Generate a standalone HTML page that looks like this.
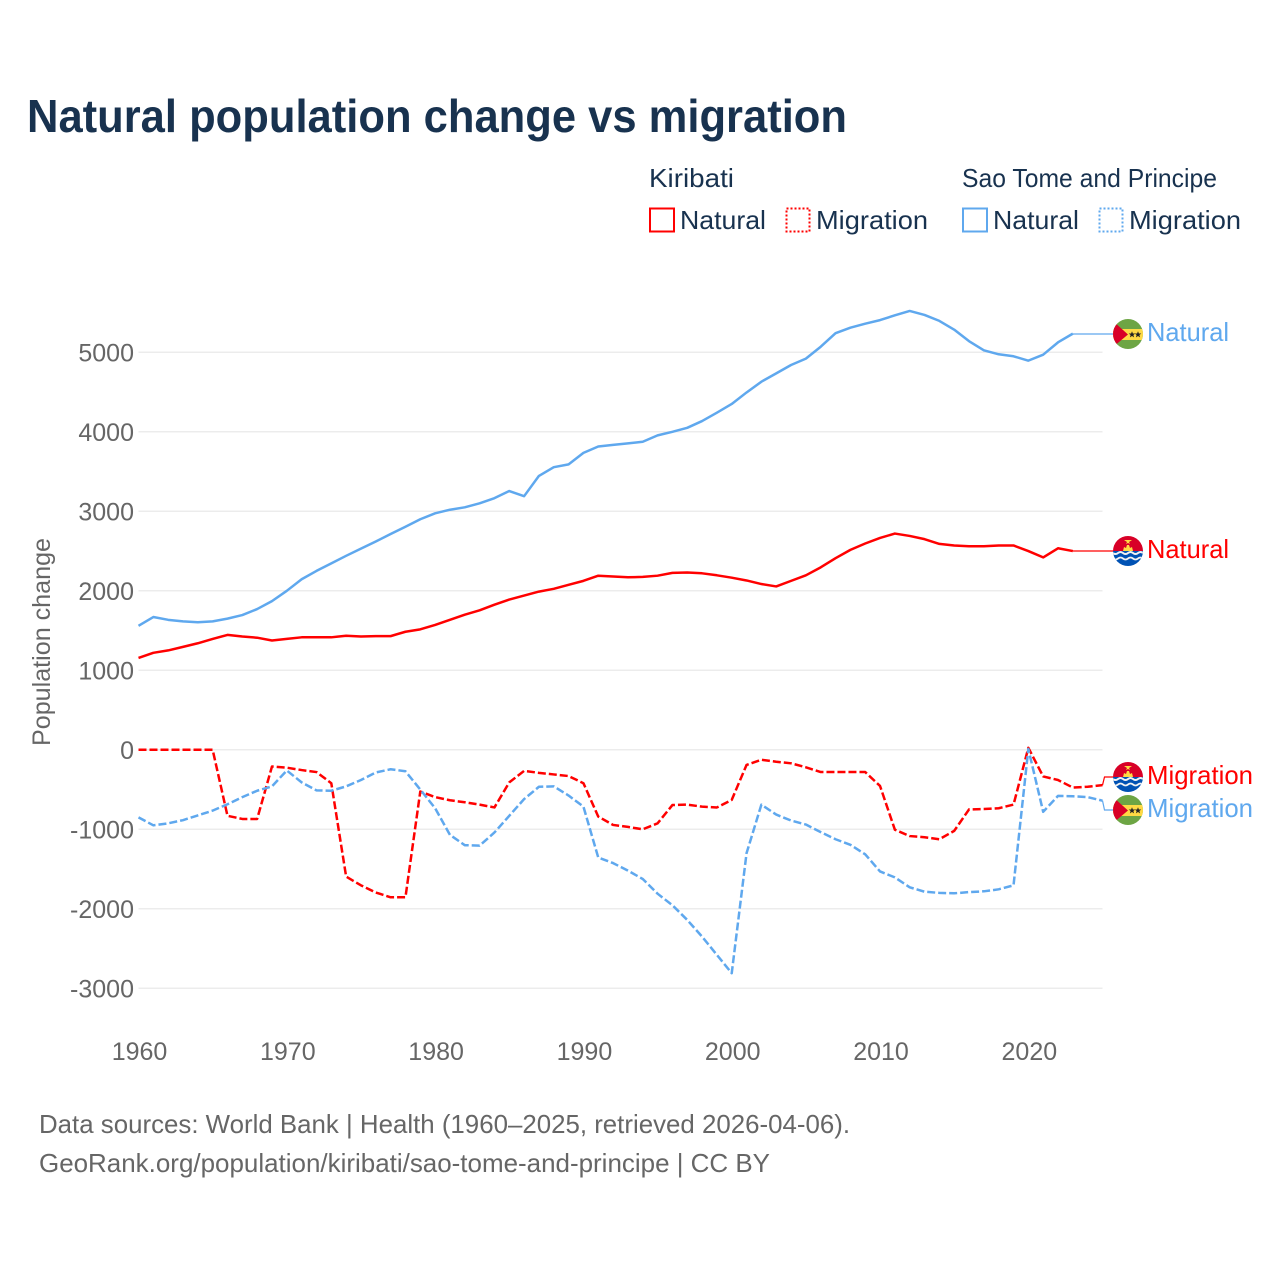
<!DOCTYPE html>
<html lang="en">
<head>
<meta charset="utf-8">
<title>Natural population change vs migration</title>
<style>
html,body{margin:0;padding:0;background:#fff;}
svg{display:block;font-family:"Liberation Sans",sans-serif;}
</style>
</head>
<body>
<svg id="chart" xmlns="http://www.w3.org/2000/svg" width="1280" height="1280" viewBox="0 0 1280 1280">
<defs>
<clipPath id="flag-clip"><circle cx="0" cy="0" r="15"/></clipPath>
<g id="flag-kiribati" clip-path="url(#flag-clip)">
<rect x="-15" y="-15" width="30" height="15" fill="#d80027"/>
<rect x="-15" y="0" width="30" height="15" fill="#0052b4"/>
<polygon points="-5,0 -4,-4 -2,-3 -1,-6 1,-6 2,-3 4,-4 5,0" fill="#ffda44"/>
<polygon points="-4,-11 4,-11 1,-9 2,-7 0,-8 -2,-7 -1,-9" fill="#ffda44"/>
<path d="M-15 2 q2.5 2 5 0 t5 0 t5 0 t5 0 t5 0 t5 0" fill="none" stroke="#f2f2f2" stroke-width="2"/>
<path d="M-15 7.5 q2.5 2 5 0 t5 0 t5 0 t5 0 t5 0 t5 0" fill="none" stroke="#f2f2f2" stroke-width="1.8"/>
</g>
<g id="flag-sao-tome" clip-path="url(#flag-clip)">
<rect x="-15" y="-15" width="30" height="30" fill="#6da544"/>
<rect x="-15" y="-5" width="30" height="11" fill="#ffda44"/>
<polygon points="-15,-13 -15,13 0,0.5" fill="#d80027"/>
<polygon points="4,-2.800 4.900,-0.500 7.300,-0.500 5.400,1 6.100,3.400 4,2 1.900,3.400 2.600,1 0.700,-0.500 3.100,-0.500" fill="#222"/>
<polygon points="10,-2.800 10.900,-0.500 13.300,-0.500 11.400,1 12.100,3.400 10,2 7.900,3.400 8.600,1 6.700,-0.500 9.100,-0.500" fill="#222"/>
</g>
</defs>

<text x="27" y="132" font-size="46" font-weight="700" fill="#18324f" textLength="820" lengthAdjust="spacingAndGlyphs">Natural population change vs migration</text>

<g>
<text x="649" y="187" font-size="26" fill="#18324f" textLength="85" lengthAdjust="spacingAndGlyphs">Kiribati</text>
<text x="962" y="187" font-size="26" fill="#18324f" textLength="255" lengthAdjust="spacingAndGlyphs">Sao Tome and Principe</text>
<rect x="650" y="208.500" width="24" height="23" fill="none" stroke="#ff0000" stroke-width="2"/>
<text x="680" y="229" font-size="26" fill="#18324f" textLength="86" lengthAdjust="spacingAndGlyphs">Natural</text>
<rect x="786.500" y="208.500" width="23" height="23" fill="none" stroke="#ff0000" stroke-width="2" stroke-dasharray="2 2"/>
<text x="816" y="229" font-size="26" fill="#18324f" textLength="112" lengthAdjust="spacingAndGlyphs">Migration</text>
<rect x="963" y="208.500" width="24" height="23" fill="none" stroke="#5fa8ee" stroke-width="2"/>
<text x="993" y="229" font-size="26" fill="#18324f" textLength="86" lengthAdjust="spacingAndGlyphs">Natural</text>
<rect x="1099.500" y="208.500" width="23" height="23" fill="none" stroke="#5fa8ee" stroke-width="2" stroke-dasharray="2 2"/>
<text x="1129" y="229" font-size="26" fill="#18324f" textLength="112" lengthAdjust="spacingAndGlyphs">Migration</text>
</g>

<g id="grid"></g>
<g id="ticks"></g>
<text transform="translate(50,642) rotate(-90)" text-anchor="middle" font-size="25" fill="#666666" textLength="208" lengthAdjust="spacingAndGlyphs">Population change</text>
<g id="series"></g>

<g>
<use href="#flag-sao-tome" x="1128" y="334"/>
<text x="1147" y="341" font-size="26" fill="#5fa8ee" textLength="82" lengthAdjust="spacingAndGlyphs">Natural</text>
<use href="#flag-kiribati" x="1128" y="551"/>
<text x="1147" y="558" font-size="26" fill="#ff0000" textLength="82" lengthAdjust="spacingAndGlyphs">Natural</text>
<use href="#flag-kiribati" x="1128" y="777"/>
<text x="1147" y="784" font-size="26" fill="#ff0000" textLength="106" lengthAdjust="spacingAndGlyphs">Migration</text>
<use href="#flag-sao-tome" x="1128" y="810"/>
<text x="1147" y="817" font-size="26" fill="#5fa8ee" textLength="106" lengthAdjust="spacingAndGlyphs">Migration</text>
</g>

<text x="39" y="1133" font-size="26" fill="#666666" textLength="811" lengthAdjust="spacingAndGlyphs">Data sources: World Bank | Health (1960–2025, retrieved 2026-04-06).</text>
<text x="39" y="1172" font-size="26" fill="#666666" textLength="731" lengthAdjust="spacingAndGlyphs">GeoRank.org/population/kiribati/sao-tome-and-principe | CC BY</text>
</svg>

<script>
const years = [1960,1961,1962,1963,1964,1965,1966,1967,1968,1969,1970,1971,1972,1973,1974,1975,1976,1977,1978,1979,1980,1981,1982,1983,1984,1985,1986,1987,1988,1989,1990,1991,1992,1993,1994,1995,1996,1997,1998,1999,2000,2001,2002,2003,2004,2005,2006,2007,2008,2009,2010,2011,2012,2013,2014,2015,2016,2017,2018,2019,2020,2021,2022,2023,2024,2025];
const xTicks = [1960,1970,1980,1990,2000,2010,2020];
const yTicks = [-3000,-2000,-1000,0,1000,2000,3000,4000,5000];

const kiribatiNatural = [1155,1220,1250,1295,1340,1395,1445,1425,1410,1375,1395,1415,1415,1415,1435,1425,1430,1430,1485,1515,1570,1635,1700,1755,1825,1890,1940,1990,2025,2075,2125,2190,2180,2170,2175,2190,2225,2230,2220,2195,2165,2130,2085,2055,2125,2195,2295,2410,2515,2595,2665,2720,2690,2650,2590,2570,2560,2560,2570,2570,2500,2420,2535,2500];
const kiribatiMigration = [0,0,0,0,0,0,-830,-870,-870,-210,-225,-255,-280,-420,-1595,-1705,-1795,-1855,-1855,-525,-595,-635,-660,-690,-725,-410,-265,-290,-310,-330,-420,-840,-945,-970,-1000,-925,-695,-690,-715,-725,-630,-190,-125,-150,-170,-220,-280,-280,-280,-280,-455,-1005,-1085,-1100,-1125,-1020,-750,-745,-735,-690,25,-335,-380,-475,-465,-445];
const saoTomeNatural = [1560,1670,1635,1615,1605,1615,1650,1695,1770,1870,2000,2145,2250,2345,2440,2530,2620,2715,2805,2900,2975,3020,3050,3100,3165,3255,3190,3445,3555,3590,3735,3815,3835,3855,3875,3955,4000,4050,4135,4240,4350,4495,4630,4735,4840,4920,5070,5240,5310,5360,5405,5465,5520,5470,5395,5285,5140,5025,4975,4950,4895,4970,5125,5235];
const saoTomeMigration = [-850,-950,-925,-885,-825,-765,-685,-595,-515,-460,-260,-410,-510,-515,-460,-380,-285,-245,-270,-500,-735,-1070,-1200,-1205,-1040,-830,-620,-465,-460,-575,-715,-1355,-1425,-1520,-1625,-1810,-1955,-2140,-2350,-2580,-2810,-1300,-690,-815,-890,-940,-1035,-1125,-1195,-1315,-1530,-1605,-1730,-1785,-1800,-1805,-1790,-1780,-1755,-1705,10,-780,-580,-585,-595,-640];

const NS = 'http://www.w3.org/2000/svg';
const RED = '#ff0000';
const BLUE = '#5fa8ee';
const PLOT_LEFT = 138.500;
const PLOT_RIGHT = 1102.500;

function xScale(year) {
  return PLOT_LEFT + (year - 1960) * (PLOT_RIGHT - PLOT_LEFT) / 65;
}
function yScale(value) {
  return 749.800 - value * 0.0795;
}
function pathFrom(values) {
  return values.map(function (v, i) {
    return (i ? 'L' : 'M') + xScale(years[i]).toFixed(2) + ' ' + yScale(v).toFixed(2);
  }).join('');
}

const gridLayer = document.getElementById('grid');
const tickLayer = document.getElementById('ticks');
const seriesLayer = document.getElementById('series');

yTicks.forEach(function (t) {
  const line = document.createElementNS(NS, 'line');
  
  
  line.setAttribute('x1', PLOT_LEFT);
  line.setAttribute('x2', PLOT_RIGHT);
  line.setAttribute('y1', yScale(t));
  line.setAttribute('y2', yScale(t));
  line.setAttribute('stroke', '#ececec');
  line.setAttribute('stroke-width', '1.500');
  gridLayer.appendChild(line);

  const label = document.createElementNS(NS, 'text');
  
  
  label.setAttribute('x', 134);
  label.setAttribute('y', yScale(t) + 9);
  label.setAttribute('text-anchor', 'end');
  label.setAttribute('font-size', '25');
  label.setAttribute('fill', '#666666');
  label.textContent = String(t);
  tickLayer.appendChild(label);
});

xTicks.forEach(function (t) {
  const label = document.createElementNS(NS, 'text');
  
  
  label.setAttribute('x', xScale(t) + 1);
  label.setAttribute('y', 1060);
  label.setAttribute('text-anchor', 'middle');
  label.setAttribute('font-size', '25');
  label.setAttribute('fill', '#666666');
  label.textContent = String(t);
  tickLayer.appendChild(label);
});

function addSeries(name, values, colour, dashed, labelY) {
  const path = document.createElementNS(NS, 'path');
  
  
  path.setAttribute('d', pathFrom(values));
  path.setAttribute('fill', 'none');
  path.setAttribute('stroke', colour);
  path.setAttribute('stroke-width', '2.500');
  path.setAttribute('stroke-linejoin', 'round');
  if (dashed) {
    path.setAttribute('stroke-dasharray', '8 3');
  }
  seriesLayer.appendChild(path);

  const last = values.length - 1;
  const endX = xScale(years[last]);
  const endY = yScale(values[last]);
  const connector = document.createElementNS(NS, 'polyline');
  
  
  connector.setAttribute('points', endX + ',' + endY + ' ' + (endX + (dashed ? 2 : 0)) + ',' + labelY + ' 1113,' + labelY);
  connector.setAttribute('fill', 'none');
  connector.setAttribute('stroke', colour);
  connector.setAttribute('stroke-width', '1.200');
  seriesLayer.appendChild(connector);
}

addSeries('line-kiribati-natural', kiribatiNatural, RED, false, 551);
addSeries('line-kiribati-migration', kiribatiMigration, RED, true, 777);
addSeries('line-sao-tome-natural', saoTomeNatural, BLUE, false, 334);
addSeries('line-sao-tome-migration', saoTomeMigration, BLUE, true, 810);
</script>
</body>
</html>
